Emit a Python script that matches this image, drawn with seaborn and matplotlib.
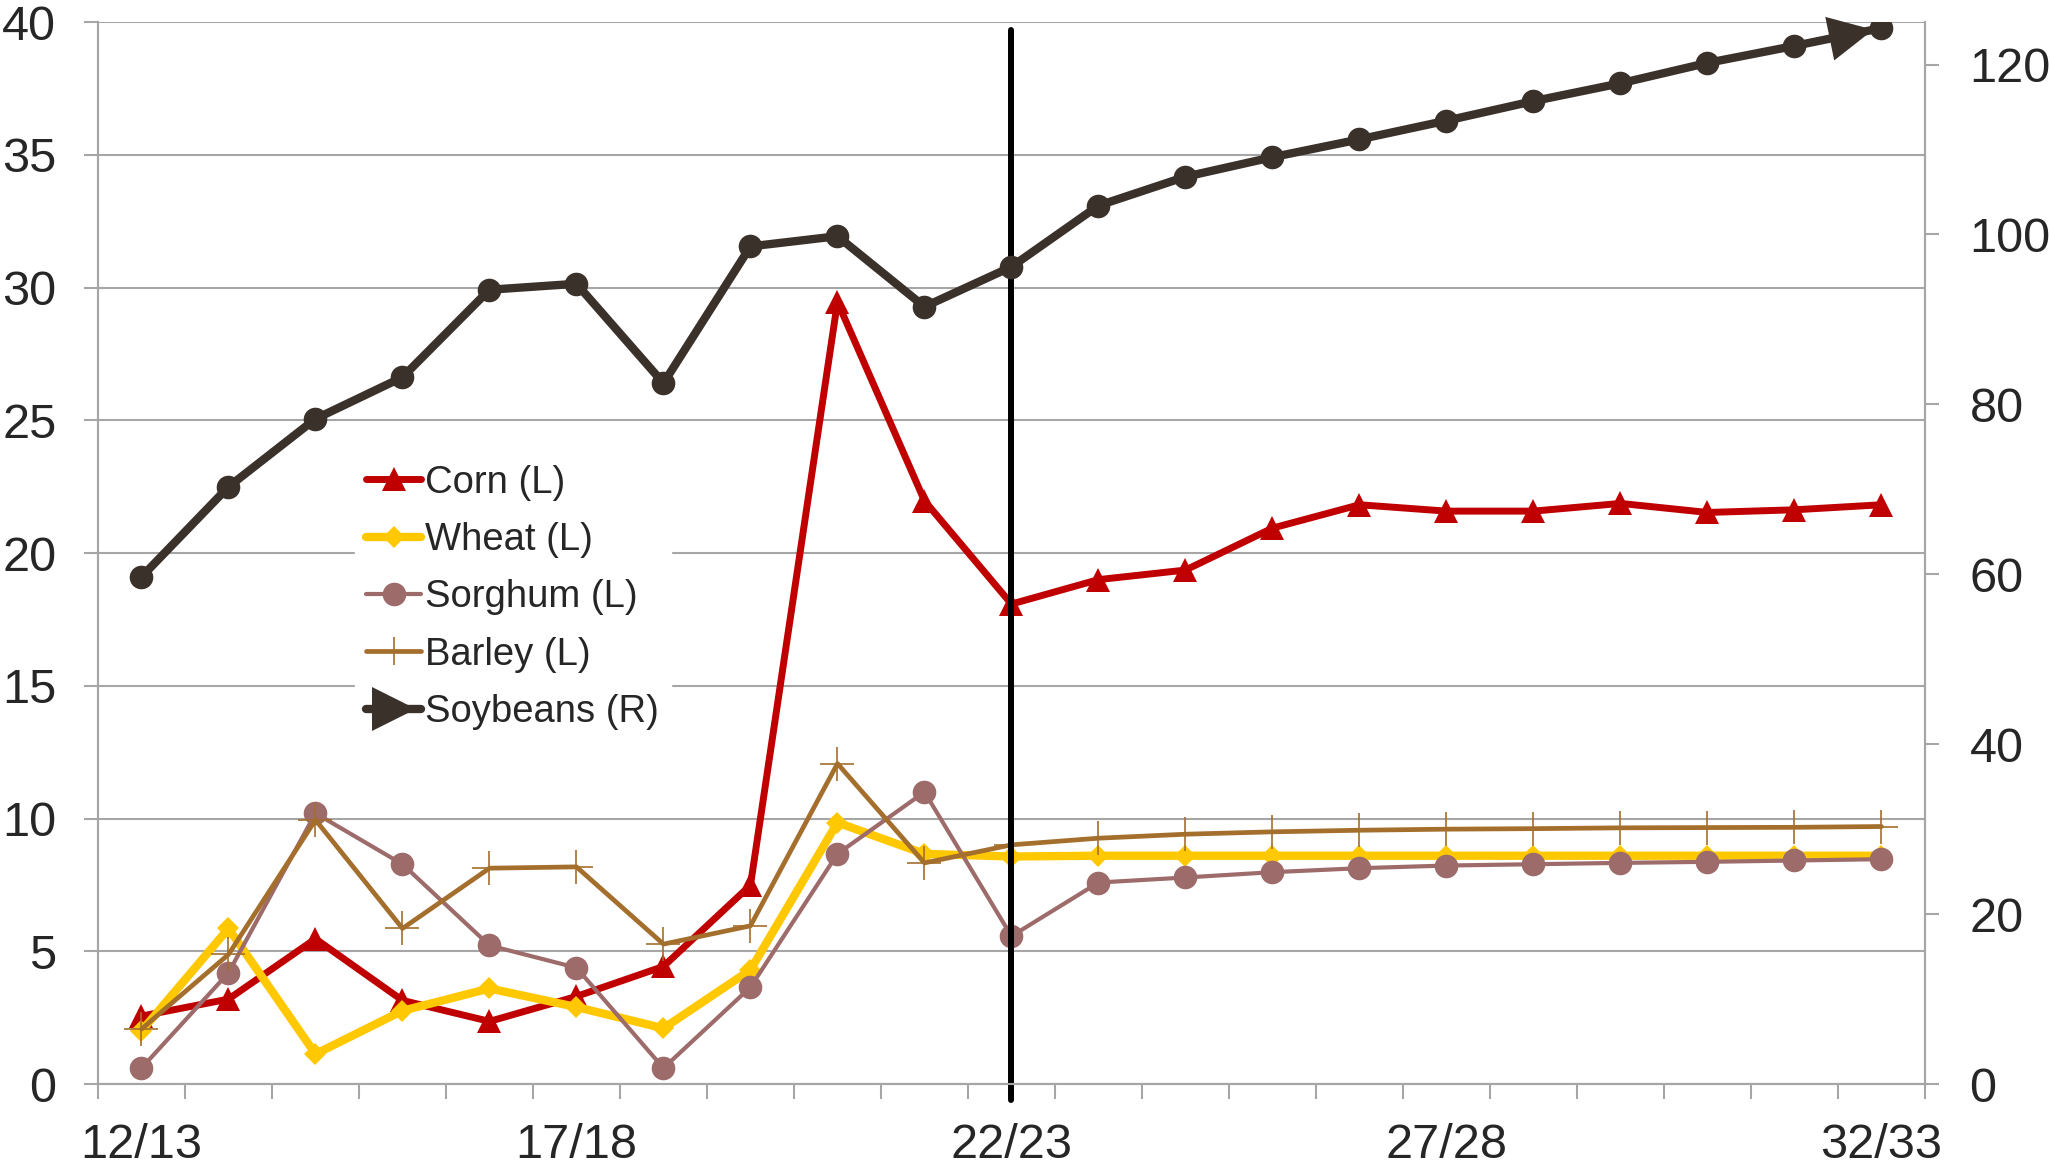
import numpy as np
import pandas as pd
import matplotlib
matplotlib.use("Agg")
import matplotlib.pyplot as plt
from matplotlib.lines import Line2D
import seaborn as sns

sns.set_theme(style="white")
plt.rcParams['font.family'] = ['Liberation Sans', 'DejaVu Sans']

# Data
years = ["12/13", "13/14", "14/15", "15/16", "16/17", "17/18", "18/19", "19/20",
         "20/21", "21/22", "22/23", "23/24", "24/25", "25/26", "26/27", "27/28",
         "28/29", "29/30", "30/31", "31/32", "32/33"]
corn = [2.56, 3.2, 5.47, 3.15, 2.36, 3.3, 4.43, 7.49, 29.46, 21.97, 18.08,
        19.0, 19.36, 20.94, 21.82, 21.58, 21.58, 21.87, 21.53, 21.63, 21.82]
wheat = [2.0, 5.86, 1.13, 2.76, 3.6, 2.9, 2.1, 4.3, 9.85, 8.67, 8.57,
         8.6, 8.6, 8.6, 8.6, 8.6, 8.6, 8.6, 8.6, 8.6, 8.6]
sorghum = [0.6, 4.19, 10.2, 8.28, 5.22, 4.38, 0.6, 3.65, 8.67, 11.0, 5.57,
           7.59, 7.78, 7.98, 8.13, 8.23, 8.28, 8.33, 8.37, 8.42, 8.47]
barley = [2.07, 4.88, 9.95, 5.86, 8.13, 8.18, 5.27, 5.96, 12.07, 8.33, 9.01,
          9.26, 9.41, 9.5, 9.56, 9.6, 9.62, 9.65, 9.66, 9.67, 9.7]
soybeans = [59.7, 70.3, 78.3, 83.2, 93.5, 94.2, 82.5, 98.6, 99.8, 91.5, 96.2,
            103.4, 106.8, 109.1, 111.2, 113.4, 115.7, 117.8, 120.2, 122.2, 124.3]
label_idx = [0, 5, 10, 15, 20]
divider_idx = 10

x = np.arange(len(years))
df = pd.DataFrame({"x": x, "Corn": corn, "Wheat": wheat, "Sorghum": sorghum,
                   "Barley": barley, "Soybeans": soybeans})

c_corn = "#c00000"
c_wheat = "#ffc800"
c_sorg = "#9e6b6b"
c_barley = "#a46e2c"
c_soy = "#3b312b"
gray = "#a6a6a6"

# line styles
st_corn = dict(color=c_corn, lw=5, marker="^", ms=17, mec=c_corn, mew=0)
st_wheat = dict(color=c_wheat, lw=6, marker="D", ms=11, mec=c_wheat, mew=0)
st_sorg = dict(color=c_sorg, lw=3, marker="o", ms=17, mec=c_sorg, mew=0)
st_barley = dict(color=c_barley, lw=3.4, marker="+", ms=24, mec=c_barley, mew=1.2)
st_soy = dict(color=c_soy, lw=6, marker="o", ms=17, mec=c_soy, mew=0)

fig = plt.figure(figsize=(20.5, 11.64), dpi=100)
ax = fig.add_axes([0.0478, 0.0687, 0.8912, 0.9123])
ax2 = ax.twinx()

# left axis series
sns.lineplot(data=df, x="x", y="Corn", ax=ax, legend=False, **st_corn)
sns.lineplot(data=df, x="x", y="Wheat", ax=ax, legend=False, **st_wheat)
sns.lineplot(data=df, x="x", y="Sorghum", ax=ax, legend=False, **st_sorg)
sns.lineplot(data=df, x="x", y="Barley", ax=ax, legend=False, **st_barley)

# right axis series
sns.lineplot(data=df, x="x", y="Soybeans", ax=ax2, legend=False, **st_soy)
ax2.annotate("", xy=(x[-1], soybeans[-1]), xytext=(x[-2], soybeans[-2]),
             arrowprops=dict(arrowstyle="-|>,head_length=0.4,head_width=0.2",
                             mutation_scale=80, color=c_soy, lw=0,
                             shrinkA=0, shrinkB=6))

# divider line
ax.axvline(divider_idx, ymin=-0.015, ymax=0.993, color="black", lw=4.3,
           clip_on=False, zorder=5)

# axes
ax.set_xlim(-0.5, len(years) - 0.5)
ax.set_ylim(0, 40)
ax2.set_ylim(0, 125)
ax.set_yticks(np.arange(0, 41, 5))
ax2.set_yticks(np.arange(0, 121, 20))
ax.set_xticks(label_idx)
ax.set_xticklabels([years[i] for i in label_idx])
ax.set_xticks(np.arange(-0.5, len(years), 1), minor=True)
ax.set_xlabel("")
ax.set_ylabel("")
ax2.set_ylabel("")

ax.grid(axis="y", color=gray, lw=1.5)
ax.set_axisbelow(True)
for a in (ax, ax2):
    for s in a.spines.values():
        s.set_color(gray)
        s.set_linewidth(1.5)
    a.spines["top"].set_visible(False)

ax.tick_params(axis="y", which="major", direction="out", length=10, width=1.5,
               color=gray, labelsize=35, pad=20, left=True)
ax2.tick_params(axis="y", which="major", direction="out", length=10, width=1.5,
                color=gray, labelsize=35, pad=22, right=True)
ax.tick_params(axis="x", which="major", length=0, labelsize=35, pad=28)
ax.tick_params(axis="x", which="minor", direction="out", length=11, width=1.5,
               color=gray, bottom=True)

handles = [
    Line2D([], [], **st_corn),
    Line2D([], [], **st_wheat),
    Line2D([], [], **st_sorg),
    Line2D([], [], color=c_barley, lw=3.4, marker="|", ms=20, mew=1.2),
    Line2D([], [], color=c_soy, lw=6, marker=">", ms=32, mew=0),
]
labels = ["Corn (L)", "Wheat (L)", "Sorghum (L)", "Barley (L)", "Soybeans (R)"]
leg = ax2.legend(handles, labels, loc="upper left", bbox_to_anchor=(0.13, 0.612),
                 frameon=True, fancybox=False, facecolor="white", edgecolor="white",
                 framealpha=1, fontsize=27.5, handlelength=1.45, handletextpad=0.1,
                 labelspacing=0.56, borderpad=0.3)
leg.set_zorder(10)

fig.savefig("out.png", dpi=100)
